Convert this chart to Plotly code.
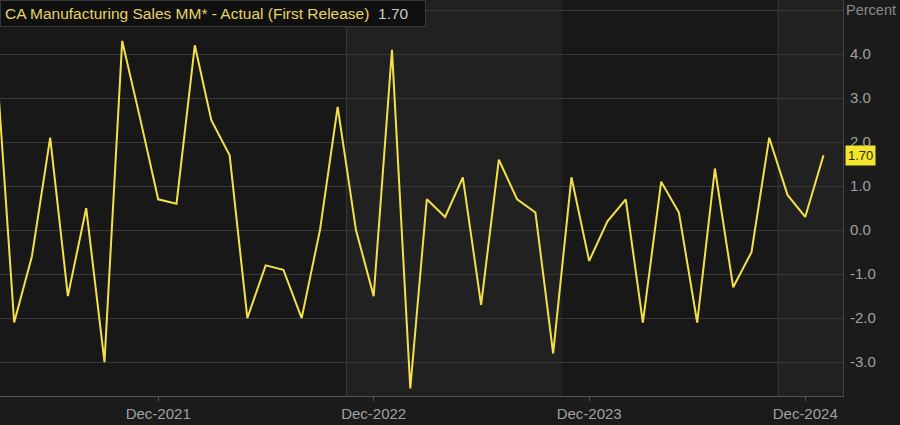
import plotly.graph_objects as go

# Monthly values, Mar-2021 .. Jan-2025 (percent m/m, first release)
months = [
    "2021-03", "2021-04", "2021-05", "2021-06", "2021-07", "2021-08", "2021-09",
    "2021-10", "2021-11", "2021-12", "2022-01", "2022-02", "2022-03", "2022-04",
    "2022-05", "2022-06", "2022-07", "2022-08", "2022-09", "2022-10", "2022-11",
    "2022-12", "2023-01", "2023-02", "2023-03", "2023-04", "2023-05", "2023-06",
    "2023-07", "2023-08", "2023-09", "2023-10", "2023-11", "2023-12", "2024-01",
    "2024-02", "2024-03", "2024-04", "2024-05", "2024-06", "2024-07", "2024-08",
    "2024-09", "2024-10", "2024-11", "2024-12", "2025-01",
]
values = [
    4.0, -2.1, -0.6, 2.1, -1.5, 0.5, -3.0,
    4.3, 2.5, 0.7, 0.6, 4.2, 2.5, 1.7,
    -2.0, -0.8, -0.9, -2.0, 0.0, 2.8, 0.0,
    -1.5, 4.1, -3.6, 0.7, 0.3, 1.2, -1.7,
    1.6, 0.7, 0.4, -2.8, 1.2, -0.7, 0.2,
    0.7, -2.1, 1.1, 0.4, -2.1, 1.4, -1.3,
    -0.5, 2.1, 0.8, 0.3, 1.7,
]
tick_dates = ["2021-12-01", "2022-12-01", "2023-12-01", "2024-12-01"]
tick_labels = ["Dec-2021", "Dec-2022", "Dec-2023", "Dec-2024"]
y_ticks = [-3, -2, -1, 0, 1, 2, 3, 4, 5]
y_labels = ["-3.0", "-2.0", "-1.0", "0.0", "1.0", "2.0", "3.0", "4.0", ""]
band_edges = [("2022-10-16", "2023-10-16"), ("2024-10-16", "2025-03-01")]
title_text = "CA Manufacturing Sales MM* - Actual (First Release)"
last_label = "1.70"

x = [m + "-01" for m in months]

fig = go.Figure()
fig.add_trace(go.Scatter(
    x=x, y=values, mode="lines",
    line=dict(color="#f3e04b", width=2),
    hoverinfo="skip", showlegend=False,
))

for a, b in band_edges:
    fig.add_shape(type="rect", xref="x", yref="paper", x0=a, x1=b, y0=0, y1=1,
                  fillcolor="#212121", line=dict(width=0), layer="below")
    fig.add_shape(type="line", xref="x", yref="paper", x0=a, x1=a, y0=0, y1=1,
                  line=dict(color="#383838", width=1), layer="below")

font_family = "Liberation Sans, Arial, sans-serif"

fig.update_layout(
    width=900, height=425,
    margin=dict(l=0, r=57, t=0, b=29),
    paper_bgcolor="#1b1b1b",
    plot_bgcolor="#181818",
    font=dict(family=font_family, color="#9a9a9a", size=15),
    xaxis=dict(
        type="date",
        range=["2021-03-08", "2025-02-03"],
        tickvals=tick_dates, ticktext=tick_labels,
        showgrid=False, zeroline=False,
        showline=True, linecolor="#555555", linewidth=1,
        ticks="outside", ticklen=4, tickcolor="#555555",
        tickfont=dict(size=15, color="#a0a0a0"),
        fixedrange=True,
    ),
    yaxis=dict(
        side="right",
        range=[-3.77, 5.23],
        tickvals=y_ticks, ticktext=y_labels,
        showgrid=True, gridcolor="#383838", gridwidth=1,
        zeroline=False,
        showline=True, linecolor="#444444", mirror=False,
        ticks="", ticklabelstandoff=3,
        tickfont=dict(size=15, color="#a0a0a0"),
        fixedrange=True,
    ),
    showlegend=False,
)

fig.add_annotation(
    xref="paper", yref="paper", x=0, y=1, xanchor="left", yanchor="top",
    text=f"<span style='color:#e6d36a'>{title_text}</span>  <span style='color:#c8c8c8'>{last_label}</span>   ",
    showarrow=False, align="left",
    font=dict(family=font_family, size=15.5),
    bgcolor="#101010", bordercolor="#3a3a3a", borderwidth=1, borderpad=4,
)

fig.add_annotation(
    xref="paper", yref="paper", x=1, y=1, xanchor="left", yanchor="top",
    xshift=1, yshift=0,
    text="Percent", showarrow=False,
    font=dict(family=font_family, size=14.5, color="#8a8a8a"),
)

fig.add_annotation(
    xref="paper", yref="y", x=1, y=values[-1], xanchor="left", yanchor="middle",
    xshift=2,
    text=last_label, showarrow=False,
    font=dict(family=font_family, size=13, color="#2a2a00"),
    bgcolor="#f5e52e", borderpad=2,
)

fig.write_html(
    "out.html",
    config={"displayModeBar": False, "staticPlot": True},
    post_script="document.body.style.margin='0';document.body.style.overflow='hidden';",
)
